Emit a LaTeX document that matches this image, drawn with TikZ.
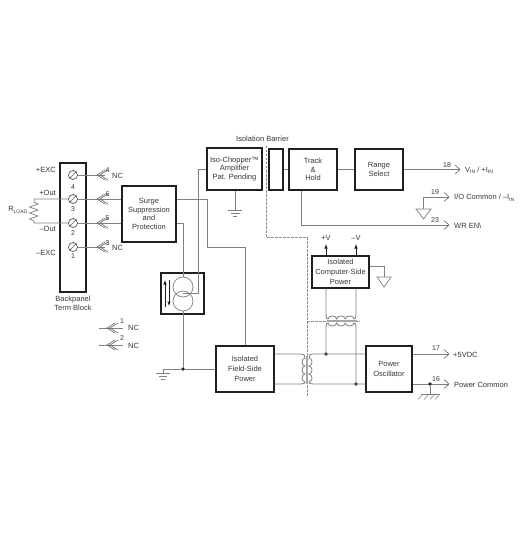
\documentclass[tikz,border=0pt]{standalone}
\usepackage{fontspec}
\setmainfont{Liberation Sans}
\newcommand{\lowtxt}[1]{\raisebox{-1.5pt}{\fontsize{5}{5}\selectfont #1}}
\definecolor{wirec}{gray}{0.5}
\definecolor{boxc}{gray}{0.12}
\definecolor{txtc}{gray}{0.22}
\definecolor{barc}{gray}{0.55}
\tikzset{
  box/.style={draw=boxc,line width=1.1pt,inner sep=0pt,align=center,text=txtc,font=\fontsize{7.5}{8.6}\selectfont},
  widebox/.style={box,font=\fontsize{7.5}{10}\selectfont},
  wire/.style={draw=wirec,line width=0.7pt},
  thick wire/.style={draw=wirec,line width=1pt},
  barrier/.style={draw=barc,line width=0.7pt,dash pattern=on 2.5pt off 1.5pt},
  lbl/.style={inner sep=0pt,text=txtc,font=\fontsize{7.5}{8.6}\selectfont,align=center},
  pin/.style={inner sep=0pt,text=txtc,font=\fontsize{7}{8}\selectfont},
  screw/.style={circle,draw=wirec!70!black,line width=0.7pt,minimum size=9pt,inner sep=0pt,fill=white},
  dot/.style={circle,fill=black!85,inner sep=0pt,minimum size=3.6pt},
  tip/.style={draw=wirec!80!black,line width=0.6pt},
  upar/.style={-{Latex[length=4.5pt,width=3.5pt]},draw=boxc,line width=0.7pt},
  coil/.style={draw=wirec,line width=0.8pt},
  core/.style={draw=wirec!70,line width=2pt},
}
\usetikzlibrary{arrows.meta}
\newcommand{\dblchev}[2]{%
  \draw[tip] (#1+8,#2-5) -- (#1,#2) -- (#1+8,#2+5);
  \draw[tip] (#1+11,#2-5) -- (#1+3,#2) -- (#1+11,#2+5);
}
\newcommand{\onechev}[2]{%
  \draw[tip] (#1-5,#2-4.5) -- (#1,#2) -- (#1-5,#2+4.5);
}
\begin{document}
\begin{tikzpicture}[x=1pt,y=-1pt]
\useasboundingbox[fill=white] (0,0) rectangle (520,540);

% isolation barrier
\coordinate (b1) at (266,146);
\coordinate (b2) at (266,237);
\coordinate (b3) at (307,237);
\coordinate (b4) at (307,397);
\coordinate (b5) at (360,321);
\coordinate (b6) at (307,321);
\draw[barrier] (b1) -- (b2) -- (b3) -- (b4);
\draw[barrier] (b6) -- (b5);
\node[lbl] (isolbl) at (262.5,139) {Isolation Barrier};

% boxes
\node[box,minimum width=26pt,minimum height=129pt] (term) at (73,227.5) {};
\node[box,minimum width=54pt,minimum height=56pt] (surge) at (149,214) {Surge\\Suppression\\and\\Protection};
\node[box,minimum width=55pt,minimum height=42pt] (chop) at (234.5,169) {Iso-Chopper™\\Amplifier\\Pat. Pending};
\node[box,minimum width=14pt,minimum height=41pt] (narrow) at (276,169.5) {};
\node[box,minimum width=48pt,minimum height=41pt] (track) at (313,169.5) {Track\\\&\\Hold};
\node[box,minimum width=48pt,minimum height=41pt] (range) at (379,169.5) {Range\\Select};
\node[widebox,minimum width=57pt,minimum height=32pt] (comp) at (340.5,272) {Isolated\\Computer-Side\\Power};
\node[widebox,minimum width=58pt,minimum height=46pt] (field) at (245,369) {Isolated\\Field-Side\\Power};
\node[widebox,minimum width=46pt,minimum height=46pt] (osc) at (389,369) {Power\\Oscillator};
\node[box,minimum width=43pt,minimum height=41pt] (src) at (182.5,293.5) {};

% terminal screws
\foreach \n/\y/\t/\ty in {s4/175/4/187,s3/199/3/209,s2/223/2/233,s1/247/1/256}{
  \node[screw] (\n) at (73,\y) {};
  \draw[wirec!70!black,line width=0.7pt] (\n.225) -- (\n.45);
  \node[pin] (num\n) at (73,\ty) {\t};
}
\node[lbl,anchor=east] (lexc) at (56,170) {+EXC};
\node[lbl,anchor=east] (lout) at (56,193) {+Out};
\node[lbl,anchor=east] (lmout) at (56,229) {–Out};
\node[lbl,anchor=east] (lmexc) at (56,253) {–EXC};
\node[lbl] (termlbl) at (73,303.5) {Backpanel\\Term Block};

% load resistor
\coordinate (rt) at (34,199);
\coordinate (rb) at (34,223);
\draw[wire] (s3.west) -- (rt) -- (34,202) -- (38,204) -- (29.5,207) -- (38,210) -- (29.5,213) -- (38,216) -- (29.5,219) -- (34,221) -- (rb) -- (s2.west);
\node[lbl,anchor=east] (rload) at (27.5,210) {R\lowtxt{LOAD}};

% pin wires to the surge box
\coordinate (e4) at (105,175);
\coordinate (e1) at (105,247);
\draw[wire] (s4.east) -- (e4);
\draw[wire] (s1.east) -- (e1);
\draw[wire] (s3.east) -- (surge.west |- s3);
\draw[wire] (s2.east) -- (surge.west |- s2);
\dblchev{97}{175}
\dblchev{97}{199}
\dblchev{97}{223}
\dblchev{97}{247}
\node[pin] (p4) at (107.5,170.5) {4};
\node[pin] (p6) at (107.5,194.5) {6};
\node[pin] (p5) at (107.5,218.5) {5};
\node[pin] (p3) at (107.5,243) {3};
\node[lbl,anchor=west] (nc4) at (112,176) {NC};
\node[lbl,anchor=west] (nc3) at (112,247.5) {NC};

% NC pins
\coordinate (na) at (99,328);
\coordinate (nb) at (123,328);
\coordinate (nc) at (99,345);
\coordinate (nd) at (123,345);
\draw[wire] (na) -- (nb);
\draw[wire] (nc) -- (nd);
\dblchev{107}{328}
\dblchev{107}{345}
\node[pin] (p1) at (122,321) {1};
\node[pin] (p2) at (122,338) {2};
\node[lbl,anchor=west] (nc1) at (128,328) {NC};
\node[lbl,anchor=west] (nc2) at (128,346) {NC};

% current source
\node[circle,draw=wirec,line width=0.7pt,minimum size=20pt,inner sep=0pt] (c1) at (183,287) {};
\node[circle,draw=wirec,line width=0.7pt,minimum size=20pt,inner sep=0pt] (c2) at (183,301) {};
\coordinate (au1) at (165,307);
\coordinate (au2) at (165,280);
\coordinate (ad1) at (169,280);
\coordinate (ad2) at (169,306);
\draw[upar] (au1) -- (au2);
\draw[upar] (ad1) -- (ad2);

% wires around surge, source, chopper
\coordinate (j1) at (183,223);
\draw[thick wire] (surge.east |- j1) -- (j1) -- (c1.north);
\coordinate (j2) at (207,199);
\coordinate (j3) at (207,247);
\coordinate (j4) at (245,247);
\draw[wire] (surge.east |- j2) -- (j2) -- (j3) -- (j4) -- (field.north -| j4);
\coordinate (j5) at (198,169);
\coordinate (j6) at (198,293);
\draw[wire] (chop.west |- j5) -- (j5) -- (j6) -- (183,293);
\node[dot] (gd) at (183,369) {};
\draw[wire] (c2.south) -- (gd);
\coordinate (g1) at (163,369);
\coordinate (g2) at (163,373);
\draw[wire] (field.west |- gd) -- (gd) -- (g1) -- (g2);
\draw[wire] (156,373) -- (170,373) (159,376) -- (167,376) (161,379) -- (165,379);

% chopper ground
\coordinate (cg) at (235,210);
\draw[thick wire] (chop.south -| cg) -- (cg);
\draw[wire] (228,210) -- (242,210) (231,213) -- (240,213) (233,216) -- (237,216);

% top signal chain
\draw[wire] (narrow.east) -- (track.west);
\draw[wire] (track.east) -- (range.west);
\coordinate (o18) at (460,169.5);
\draw[wire] (range.east) -- (o18);
\onechev{460}{169.5}
\node[pin] (p18) at (447,165) {18};
\node[lbl,anchor=west] (l18) at (465,170.5) {V\lowtxt{IN} / +I\lowtxt{IN}};

\coordinate (o19) at (449,197);
\coordinate (c19) at (423,197);
\coordinate (t19) at (423,209);
\draw[wire] (o19) -- (c19) -- (t19);
\draw[wire] (416,209) -- (431,209) -- (423.5,219) -- cycle;
\onechev{449}{197}
\node[pin] (p19) at (435,192) {19};
\node[lbl,anchor=west] (l19) at (454,198) {I/O Common / –I\lowtxt{IN}};

\coordinate (t23) at (301,225);
\coordinate (o23) at (449,225);
\draw[wire] (track.south -| t23) -- (t23) -- (o23);
\onechev{449}{225}
\node[pin] (p23) at (435,220) {23};
\node[lbl,anchor=west] (l23) at (454,226) {WR EN\textbackslash};

% computer-side power
\coordinate (pv) at (326,244);
\coordinate (mv) at (356,244);
\draw[upar] (comp.north -| pv) -- (pv);
\draw[upar] (comp.north -| mv) -- (mv);
\node[lbl] (lpv) at (326,238) {+V};
\node[lbl] (lmv) at (356,238) {–V};
\coordinate (cg1) at (384,266);
\coordinate (cg2) at (384,277);
\draw[wire] (comp.east |- cg1) -- (cg1) -- (cg2);
\draw[wire] (377,277) -- (391,277) -- (384,287) -- cycle;

% upper transformer
\node[dot] (d1) at (326,354) {};
\node[dot] (d2) at (356,384) {};
\draw[core] (327,321) -- (357,321);
\draw[coil] (comp.south -| d1) -- (326,315) .. controls (326,318) and (327,319) .. (328,319)
  arc[start angle=180,end angle=0,x radius=4.33pt,y radius=3pt]
  arc[start angle=180,end angle=0,x radius=4.33pt,y radius=3pt]
  arc[start angle=180,end angle=0,x radius=4.33pt,y radius=3pt]
  .. controls (355,319) and (356,318) .. (356,315) -- (comp.south -| d2);
\draw[coil] (d1) -- (326,327) .. controls (326,324) and (327,323) .. (328,323)
  arc[start angle=180,end angle=360,x radius=4.33pt,y radius=3pt]
  arc[start angle=180,end angle=360,x radius=4.33pt,y radius=3pt]
  arc[start angle=180,end angle=360,x radius=4.33pt,y radius=3pt]
  .. controls (355,323) and (356,324) .. (356,327) -- (d2);

% lower transformer
\draw[core] (307,356) -- (307,384);
\draw[coil] (field.east |- d1) -- (301,354) .. controls (304,354) and (305,355) .. (305,358)
  arc[start angle=90,end angle=270,x radius=3pt,y radius=4pt]
  arc[start angle=90,end angle=270,x radius=3pt,y radius=4pt]
  arc[start angle=90,end angle=270,x radius=3pt,y radius=4pt]
  .. controls (305,383) and (304,384) .. (301,384) -- (field.east |- d2);
\draw[coil] (osc.west |- d1) -- (313,354) .. controls (310,354) and (309,355) .. (309,358)
  arc[start angle=90,end angle=-90,x radius=3pt,y radius=4pt]
  arc[start angle=90,end angle=-90,x radius=3pt,y radius=4pt]
  arc[start angle=90,end angle=-90,x radius=3pt,y radius=4pt]
  .. controls (309,383) and (310,384) .. (313,384) -- (osc.west |- d2);

% outputs
\coordinate (o17) at (449,354);
\coordinate (o16) at (449,384);
\draw[wire] (osc.east |- o17) -- (o17);
\draw[wire] (osc.east |- o16) -- (o16);
\onechev{449}{354}
\onechev{449}{384}
\node[pin] (p17) at (436,348) {17};
\node[pin] (p16) at (436,379) {16};
\node[lbl,anchor=west] (l17) at (453,354.5) {+5VDC};
\node[lbl,anchor=west] (l16) at (454,384.5) {Power Common};
\node[dot] (d3) at (430,384) {};
\coordinate (hg) at (430,394);
\draw[wire] (d3) -- (hg);
\draw[wire] (421,394) -- (439,394);
\foreach \x in {423,429,435,440}{
  \draw[wirec,line width=0.5pt] (\x,394) -- (\x-5,399.5);
}
\end{tikzpicture}
\end{document}
